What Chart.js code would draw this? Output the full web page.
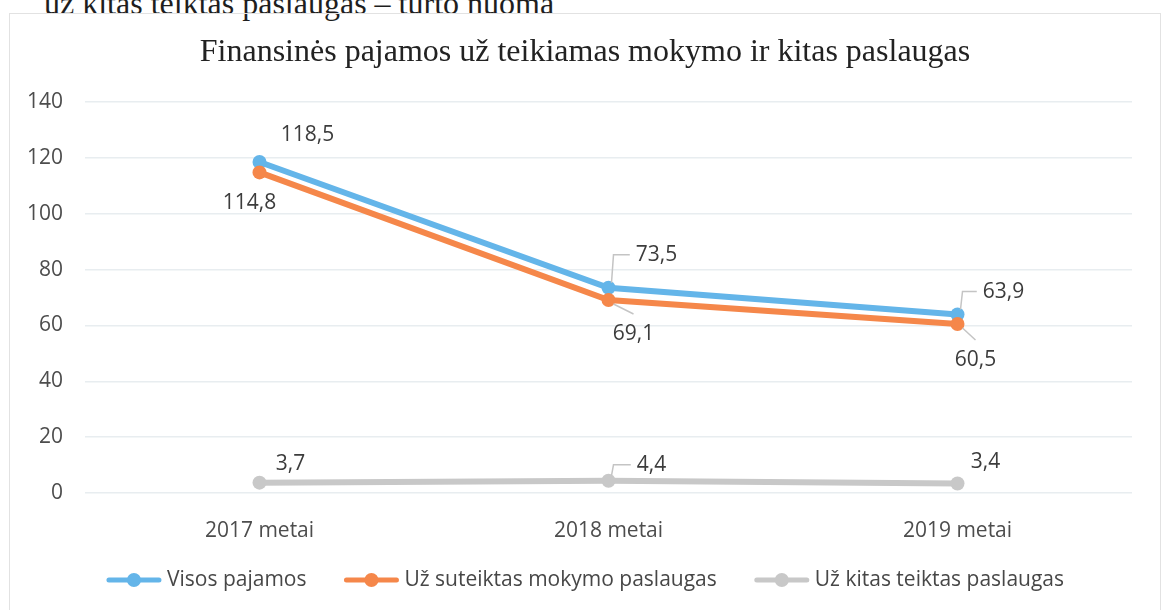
<!DOCTYPE html>
<html lang="lt">
<head>
<meta charset="UTF-8">
<title>Finansinės pajamos už teikiamas mokymo ir kitas paslaugas</title>
<script src="https://cdn.jsdelivr.net/npm/chart.js"></script>
<style>
    body {
        margin: 0;
        background: #fff;
        overflow: hidden;
    }
    .virsus {
        position: absolute;
        left: 44px;
        top: -13px;
        font: 32px/32px "Liberation Serif", serif;
        color: #1e1e1e;
        white-space: nowrap;
    }
    .remelis {
        position: absolute;
        left: 9px;
        top: 13px;
        width: 1150px;
        height: 600px;
        border: 1px solid #e2e2e2;
    }
    canvas {
        display: block;
    }
</style>
</head>
<body>
<div class="virsus">už kitas teiktas paslaugas – turto nuoma</div>
<div class="remelis">
    <canvas id="grafikas" width="1150" height="596"></canvas>
</div>

<script>
    const metai = ['2017 metai', '2018 metai', '2019 metai'];
    const visosPajamos = [118.5, 73.5, 63.9];
    const mokymoPaslaugos = [114.8, 69.1, 60.5];
    const kitosPaslaugos = [3.7, 4.4, 3.4];
    const yZymos = [0, 20, 40, 60, 80, 100, 120, 140];

    const melyna = '#64b5e9';
    const oranzine = '#f5874a';
    const pilka = '#c8c8c8';
    const sriftas = '21px "Open Sans"';

    // etikečių poslinkis nuo taško [dx, dy, ar piešti liniją]
    const poslinkiai = [
        [[48, -27], [48, -33, true], [46, -23, true]],
        [[-10, 31], [25, 34, true], [18, 36, true]],
        [[31, -19], [43, -16, true], [28, -21]]
    ];

    const etiketes = {
        id: 'etiketes',
        afterDatasetsDraw(chart) {
            const ctx = chart.ctx;
            ctx.save();
            ctx.font = sriftas;
            ctx.textAlign = 'center';
            ctx.textBaseline = 'middle';
            chart.data.datasets.forEach((ds, i) => {
                chart.getDatasetMeta(i).data.forEach((pt, j) => {
                    const [dx, dy, linija] = poslinkiai[i][j];
                    const tekstas = ds.data[j].toFixed(1).replace('.', ',');
                    const lx = pt.x + dx;
                    const ly = pt.y + dy;
                    if (linija) {
                        const w = ctx.measureText(tekstas).width;
                        ctx.strokeStyle = '#c4c4c4';
                        ctx.lineWidth = 1.5;
                        ctx.beginPath();
                        if (dy < 0) {
                            ctx.moveTo(pt.x + 3, pt.y - 5);
                            ctx.lineTo(pt.x + 5, ly);
                            ctx.lineTo(lx - w / 2 - 6, ly);
                        } else {
                            ctx.moveTo(pt.x + 5, pt.y + 4);
                            ctx.lineTo(lx, ly - 20);
                        }
                        ctx.stroke();
                    }
                    ctx.fillStyle = '#3c3c3c';
                    ctx.fillText(tekstas, lx, ly);
                });
            });
            ctx.restore();
        }
    };

    const legenda = {
        id: 'legenda',
        afterDraw(chart) {
            const ctx = chart.ctx;
            const zymuo = 56, tarpas = 5, tarpasTarp = 37;
            ctx.save();
            ctx.font = sriftas;
            const plociai = chart.data.datasets.map(ds => zymuo + tarpas + ctx.measureText(ds.label).width);
            const viso = plociai.reduce((a, b) => a + b, 0) + tarpasTarp * (plociai.length - 1);
            let x = (chart.width - viso) / 2;
            const y = chart.height - 30;
            chart.data.datasets.forEach((ds, i) => {
                ctx.strokeStyle = ds.borderColor;
                ctx.lineWidth = 5;
                ctx.lineCap = 'round';
                ctx.beginPath();
                ctx.moveTo(x + 3, y);
                ctx.lineTo(x + zymuo - 3, y);
                ctx.stroke();
                ctx.fillStyle = ds.borderColor;
                ctx.beginPath();
                ctx.arc(x + zymuo / 2, y, 7, 0, Math.PI * 2);
                ctx.fill();
                ctx.fillStyle = '#474747';
                ctx.textAlign = 'left';
                ctx.textBaseline = 'middle';
                ctx.fillText(ds.label, x + zymuo + tarpas, y);
                x += plociai[i] + tarpasTarp;
            });
            ctx.restore();
        }
    };

    Chart.defaults.font.family = '"Open Sans", sans-serif';

    new Chart(document.getElementById('grafikas'), {
        type: 'line',
        data: {
            labels: metai,
            datasets: [
                { label: 'Visos pajamos', data: visosPajamos, borderColor: melyna, backgroundColor: melyna, order: 3 },
                { label: 'Už suteiktas mokymo paslaugas', data: mokymoPaslaugos, borderColor: oranzine, backgroundColor: oranzine, order: 2 },
                { label: 'Už kitas teiktas paslaugas', data: kitosPaslaugos, borderColor: pilka, backgroundColor: pilka, order: 1 }
            ]
        },
        options: {
            responsive: false,
            animation: false,
            elements: {
                line: { borderWidth: 6, tension: 0, borderCapStyle: 'round' },
                point: { radius: 7, hoverRadius: 7, borderWidth: 0 }
            },
            layout: {
                padding: { top: 0, right: 0, bottom: 67, left: 0 }
            },
            plugins: {
                legend: { display: false },
                tooltip: { enabled: false },
                title: {
                    display: true,
                    text: 'Finansinės pajamos už teikiamas mokymo ir kitas paslaugas',
                    font: { family: '"Liberation Serif", serif', size: 32, weight: 'normal' },
                    color: '#222222',
                    padding: { top: 19, bottom: 30.6 }
                }
            },
            scales: {
                x: {
                    offset: true,
                    grid: { display: false, offset: true },
                    border: { display: false },
                    ticks: { font: { size: 21 }, color: '#4d4d4d', padding: 17 },
                    afterFit: s => { s.height = 50; }
                },
                y: {
                    min: 0,
                    max: 140,
                    grid: { color: '#e8edf0', lineWidth: 1.5, drawTicks: false },
                    border: { display: false },
                    ticks: { font: { size: 21 }, color: '#4d4d4d', padding: 22 },
                    afterBuildTicks: s => { s.ticks = yZymos.map(v => ({ value: v })); },
                    afterFit: s => { s.width = 75; }
                },
                // tuščia dešinė ašis - tik tarpas iki rėmelio
                tarpas: {
                    position: 'right',
                    grid: { display: false },
                    border: { display: false },
                    ticks: { display: false },
                    afterFit: s => { s.width = 28; }
                }
            }
        },
        plugins: [etiketes, legenda]
    });
</script>
</body>
</html>
